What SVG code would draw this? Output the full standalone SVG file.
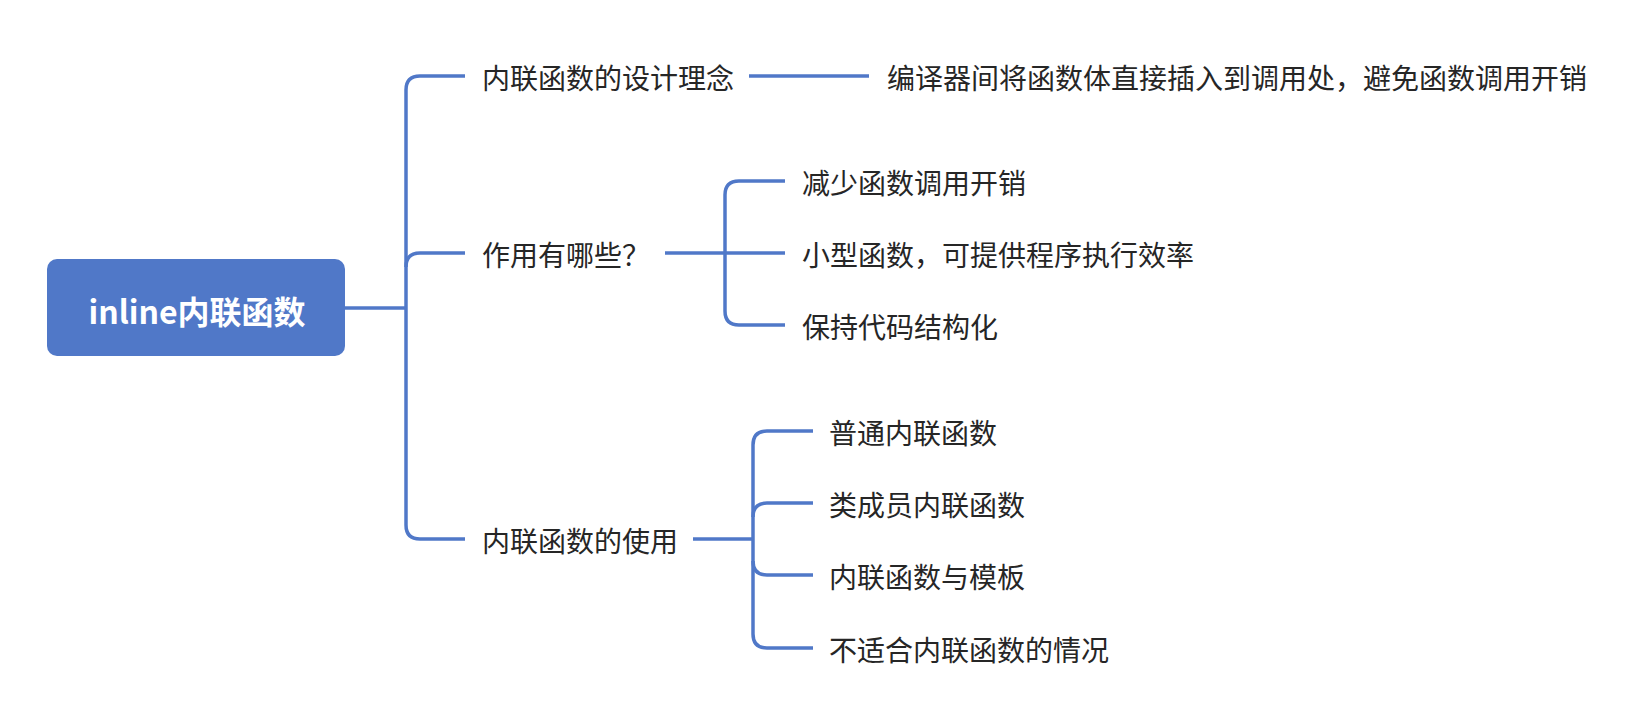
<svg xmlns="http://www.w3.org/2000/svg" width="1650" height="726" viewBox="0 0 1650 726">
<style>
.ln{fill:none;stroke:#5078c8;stroke-width:3.5;stroke-linecap:butt}
.t{font-family:"Noto Sans CJK SC","Noto Sans",sans-serif;font-size:28px;fill:#262626;dominant-baseline:central}
.rt{font-family:"Noto Sans CJK SC","Noto Sans",sans-serif;font-size:32px;font-weight:bold;fill:#ffffff;dominant-baseline:central;text-anchor:middle}
</style>
<rect width="1650" height="726" fill="#ffffff"/>
<g id="connectors">
<path class="ln" d="M345 308 L406 308"/>
<path class="ln" d="M406 90 L406 525"/>
<path class="ln" d="M406 90 Q406 76 420 76 L465 76"/>
<path class="ln" d="M406 267 Q406 253 420 253 L465 253"/>
<path class="ln" d="M406 525 Q406 539 420 539 L465 539"/>
<path class="ln" d="M749 76 L869 76"/>
<path class="ln" d="M665 253 L785 253"/>
<path class="ln" d="M725 195 L725 311"/>
<path class="ln" d="M725 195 Q725 181 739 181 L785 181"/>
<path class="ln" d="M725 311 Q725 325 739 325 L785 325"/>
<path class="ln" d="M693 539 L753 539"/>
<path class="ln" d="M753 445 L753 634"/>
<path class="ln" d="M753 445 Q753 431 767 431 L813 431"/>
<path class="ln" d="M753 517 Q753 503 767 503 L813 503"/>
<path class="ln" d="M753 561 Q753 575 767 575 L813 575"/>
<path class="ln" d="M753 634 Q753 648 767 648 L813 648"/>
</g>
<g id="root">
<rect x="47" y="259" width="298" height="97" rx="10" fill="#5078c8"/>
<text class="rt" x="197" y="310">inline内联函数</text>
</g>
<g id="n1"><text class="t" x="482" y="77">内联函数的设计理念</text></g>
<g id="n1a"><text class="t" x="887" y="77">编译器间将函数体直接插入到调用处，避免函数调用开销</text></g>
<g id="n2"><text class="t" x="482" y="254">作用有哪些？</text></g>
<g id="n2a"><text class="t" x="802" y="182">减少函数调用开销</text></g>
<g id="n2b"><text class="t" x="802" y="254">小型函数，可提供程序执行效率</text></g>
<g id="n2c"><text class="t" x="802" y="326">保持代码结构化</text></g>
<g id="n3"><text class="t" x="482" y="540">内联函数的使用</text></g>
<g id="n3a"><text class="t" x="829" y="432">普通内联函数</text></g>
<g id="n3b"><text class="t" x="829" y="504">类成员内联函数</text></g>
<g id="n3c"><text class="t" x="829" y="576">内联函数与模板</text></g>
<g id="n3d"><text class="t" x="829" y="649">不适合内联函数的情况</text></g>
</svg>
